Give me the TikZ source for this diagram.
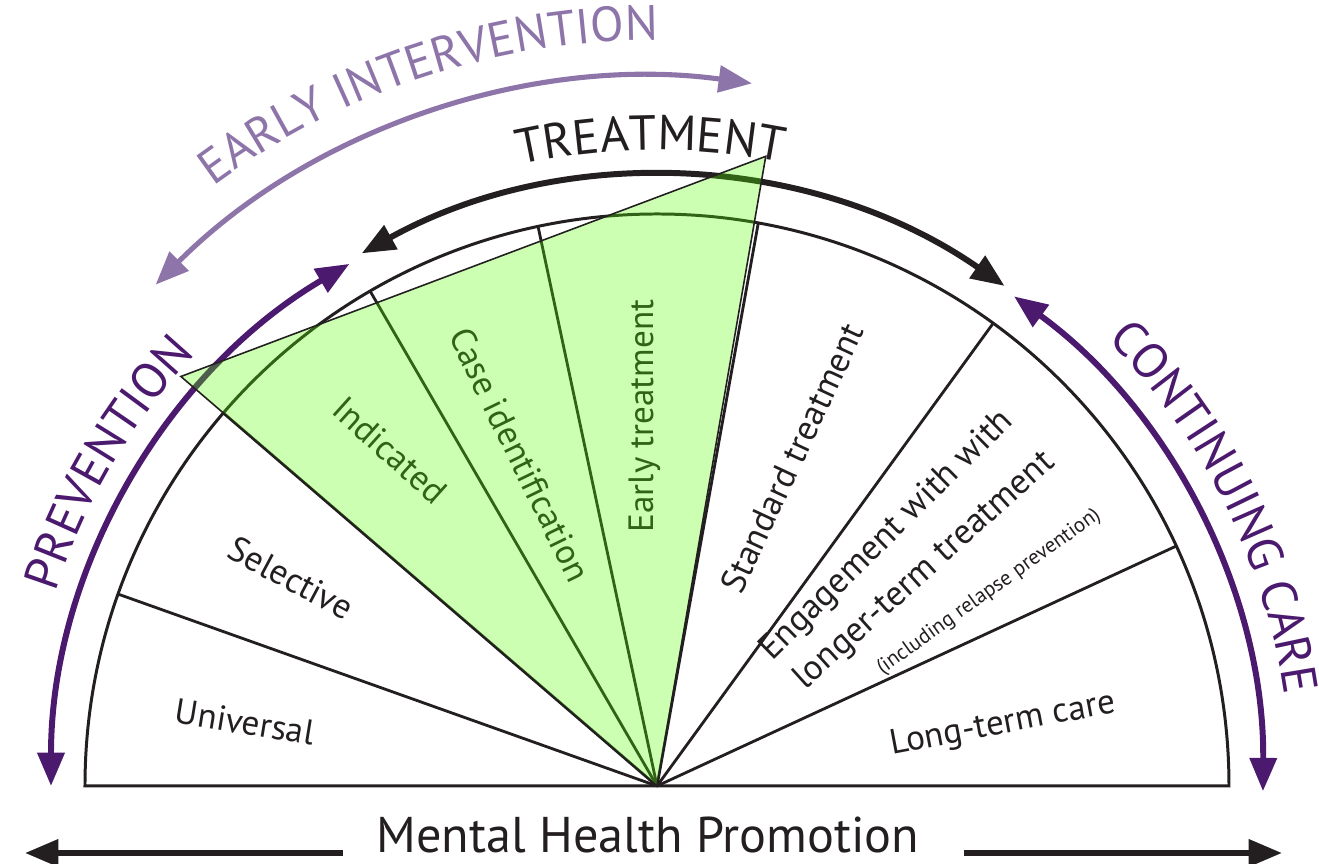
\documentclass[tikz,border=0pt]{standalone}
\usepackage{fontspec}
\setmainfont{PT Sans}
\usetikzlibrary{positioning,arrows.meta,decorations.text}
\definecolor{ink}{HTML}{231F20}
\definecolor{deeppurple}{HTML}{4B196E}
\definecolor{softpurple}{HTML}{8D75AA}
\definecolor{leaf}{HTML}{55FF00}
\tikzset{rim/.style={draw=ink,line width=1.7pt},
         spoke/.style={draw=ink,line width=1.6pt},
         sectorlabel/.style={text=ink,inner sep=0pt,font=\fontsize{20}{23}\selectfont},
         bow/.style={line width=3.4pt,{Triangle[length=19pt,width=15pt]}-{Triangle[length=19pt,width=15pt]}},
         flat/.style={draw=ink,line width=3.4pt,-{Triangle[length=19pt,width=15pt]}}
}
\newcommand{\bigcaps}{\fontsize{28}{32}\selectfont}

\begin{document}
\begin{tikzpicture}[x=0.02cm,y=0.02cm]
\useasboundingbox (-657,-78) rectangle (662,786);
\coordinate (O) at (0,0);

% half disc and its spokes
\draw[rim] (0:572) arc[start angle=0,end angle=180,radius=572] -- cycle;
\draw[spoke] (O) -- (160.4:572) coordinate (s1);
\draw[spoke] (O) -- (139.3:572) coordinate (s2);
\draw[spoke] (O) -- (120.1:572) coordinate (s3);
\draw[spoke] (O) -- (102:572) coordinate (s4);
\draw[spoke] (O) -- (79.8:572) coordinate (s5);
\draw[spoke] (O) -- (54:572) coordinate (s6);
\draw[spoke] (O) -- (24.8:572) coordinate (s7);

% sector labels
\node[sectorlabel,rotate=-9.3] (universal) at (-412,64) {Universal};
\node[sectorlabel,rotate=-28] (selective) at (-366,208) {Selective};
\node[sectorlabel,rotate=-42] (indicated) at (-267,336) {Indicated};
\node[sectorlabel,rotate=-64] (caseid) at (-137,331) {Case identification};
\node[sectorlabel,rotate=90] (earlytr) at (-12,370) {Early treatment};
\node[sectorlabel,rotate=65] (standard) at (135,328) {Standard treatment};
\node[sectorlabel,rotate=44.6] (engage) at (230,250) {Engagement with with};
\node[sectorlabel,rotate=42] (longer) at (268,215) {longer-term treatment};
\node[sectorlabel,rotate=35.6,font=\fontsize{12}{14}\selectfont] (relapse) at (332,194) {(including relapse prevention)};
\node[sectorlabel,rotate=10.7] (longterm) at (346,61) {Long-term care};

% arrows round the rim
\coordinate (prevtop) at (120.5:606);
\draw[bow,deeppurple] (prevtop) arc[start angle=120.5,end angle=180,radius=606] coordinate (prevbot);
\coordinate (caretop) at (53.9:606);
\draw[bow,deeppurple] (caretop) arc[start angle=53.9,end angle=-0.5,radius=606] coordinate (carebot);
\coordinate (treatleft) at (119:609);
\draw[bow,ink] (treatleft) arc[start angle=119,end angle=55.2,radius=609] coordinate (treatright);
\coordinate (earlyleft) at (135:709);
\draw[bow,softpurple,line width=2.9pt] (earlyleft) arc[start angle=135,end angle=82.3,radius=709] coordinate (earlyright);

% green window
\filldraw[fill=leaf,fill opacity=0.3,draw=ink,line width=0.9pt] (O) -- (139.3:628) coordinate (tl) -- (80.2:639) coordinate (tr) -- cycle;

% curved titles
\path[decorate,decoration={text along path,text align=center,text={|\color{ink}\bigcaps|TREATMENT}}]
  (120:636) arc[start angle=120,end angle=61.2,radius=636];
\path[decorate,decoration={text along path,text align=center,text={|\color{softpurple}\bigcaps|EARLY INTERVENTION}}]
  (150:746) arc[start angle=150,end angle=66.4,radius=746];
\path[decorate,decoration={text along path,text align=center,text={|\color{deeppurple}\bigcaps|PREVENTION}}]
  (179.5:632) arc[start angle=179.5,end angle=119.5,radius=632];
\path[decorate,decoration={text along path,text align=center,text={|\color{deeppurple}\bigcaps|CONTINUING CARE}}]
  (61.5:634) arc[start angle=61.5,end angle=-8.5,radius=634];

% promotion bar
\node[anchor=base,inner sep=0pt,text=ink,font=\fontsize{28.6}{32}\selectfont] (promo) at (-9,-67) {Mental Health Promotion};
\coordinate (leftend) at (-632,-67);
\coordinate (rightend) at (625,-67);
\draw[flat] ([xshift=-19pt]promo.base west) -- (leftend);
\draw[flat] ([xshift=25pt]promo.base east) -- (rightend);

\end{tikzpicture}
\end{document}
